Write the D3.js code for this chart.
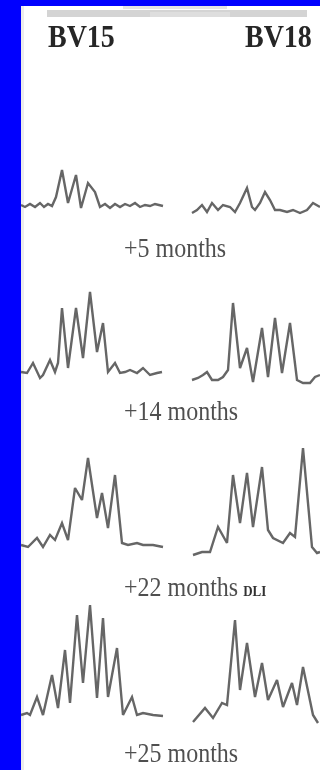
<!DOCTYPE html>
<html><head><meta charset="utf-8">
<script src="https://cdn.jsdelivr.net/npm/d3@7"></script>
<style>html,body{margin:0;padding:0;background:#fff;}svg{display:block;}</style>
</head><body>
<svg id="c" width="320" height="770"></svg>
<script>
// ---- data ----
const families = ["BV15", "BV18"];
const timepoints = ["+5 months", "+14 months", "+22 months", "+25 months"];
const dliNote = "DLI";
// each trace: [size position, fluorescence intensity]
const bv15_m5  = [[0,3],[4,1],[9,4],[14,1],[19,5],[23,1],[27,4],[31,2],[35,11],[41,38],[47,5],[55,33],[60,0],[67,25],[74,16],[79,1],[84,4],[89,0],[94,4],[99,1],[104,4],[109,2],[114,5],[119,1],[124,3],[129,2],[134,4],[142,2]];
const bv18_m5  = [[0,0],[5,3],[10,8],[15,1],[20,10],[26,3],[31,8],[38,6],[43,1],[48,10],[55,25],[60,6],[63,3],[68,10],[73,21],[78,13],[83,3],[88,3],[95,1],[101,3],[108,0],[115,3],[121,10],[128,6]];
const bv15_m14 = [[0,6],[6,5],[12,15],[19,0],[22,3],[29,18],[34,6],[37,15],[41,70],[47,10],[55,70],[62,20],[69,86],[76,26],[82,55],[87,6],[94,15],[99,5],[104,6],[109,8],[116,5],[122,10],[129,3],[136,5],[141,6]];
const bv18_m14 = [[0,3],[6,5],[11,8],[15,11],[20,3],[26,3],[31,6],[36,13],[41,80],[48,15],[55,35],[61,1],[70,55],[76,6],[83,65],[90,10],[98,60],[105,3],[111,0],[118,0],[123,6],[128,8]];
const bv15_m22 = [[0,2],[7,0],[16,9],[22,0],[29,12],[34,7],[41,24],[47,7],[54,59],[61,47],[67,89],[76,29],[81,54],[87,19],[94,72],[101,4],[107,2],[116,4],[122,2],[132,2],[142,0]];
const bv18_m22 = [[1,0],[10,3],[18,3],[26,28],[35,12],[41,80],[48,32],[55,82],[61,28],[70,88],[76,25],[81,17],[91,12],[98,22],[103,18],[111,107],[120,8],[125,2],[128,3]];
const bv15_m25 = [[0,1],[6,3],[9,1],[16,19],[22,1],[31,41],[37,8],[44,66],[49,13],[56,101],[62,33],[69,111],[76,18],[82,98],[87,19],[96,68],[102,1],[111,19],[116,1],[122,3],[132,1],[142,0]];
const bv18_m25 = [[1,1],[13,15],[21,5],[30,20],[35,18],[43,103],[48,33],[55,80],[63,26],[70,60],[76,23],[85,43],[91,16],[100,40],[105,18],[111,56],[121,8],[126,0]];
const traces = [[bv15_m5, bv18_m5],[bv15_m14, bv18_m14],[bv15_m22, bv18_m22],[bv15_m25, bv18_m25]];

// ---- layout ----
const W = 320, H = 770;
const colX = [{x0:21, x1:166, d:145}, {x0:192, x1:320, d:128}];
const rowBase = [[208,213],[378,383],[547,555],[716,723]];
const labelY = [257, 420, 596, 762];

const svg = d3.select("#c");
const defs = svg.append("defs");
defs.append("filter").attr("id","blur").attr("x","-5%").attr("y","-5%").attr("width","110%").attr("height","110%")
  .append("feGaussianBlur").attr("stdDeviation",0.65);

svg.append("rect").attr("width",W).attr("height",H).attr("fill","#fff");
const g = svg.append("g").attr("filter","url(#blur)");

// faint remnants at the top (cropped caption)
g.append("rect").attr("x",47).attr("y",10).attr("width",260).attr("height",7).attr("fill","#d4d4d4");
g.append("rect").attr("x",150).attr("y",12).attr("width",80).attr("height",5).attr("fill","#dedede");
g.append("rect").attr("x",123).attr("y",6).attr("width",104).attr("height",3).attr("fill","#e4e4e4");
g.append("rect").attr("x",21).attr("y",6).attr("width",3).attr("height",H).attr("fill","#ececec");

// headers
const serif = "'Liberation Serif','DejaVu Serif',serif";
families.forEach((f,i) => {
  const x = i === 0 ? 48 : 245;
  g.append("text").attr("transform",`translate(${x},47) scale(1,1.15)`)
    .attr("font-family",serif).attr("font-weight","bold").attr("font-size",28)
    .attr("fill","#262626").text(f);
});

// traces
traces.forEach((row, r) => {
  row.forEach((tr, c) => {
    const xs = d3.scaleLinear().domain([0, colX[c].d]).range([colX[c].x0, colX[c].x1]);
    const base = rowBase[r][c];
    const ys = d3.scaleLinear().domain([0,100]).range([base, base-100]);
    const line = d3.line().x(d => xs(d[0])).y(d => ys(d[1]));
    g.append("path").datum(tr).attr("d", line)
      .attr("fill","none").attr("stroke","#666").attr("stroke-width",2.4)
      .attr("stroke-linejoin","miter").attr("stroke-miterlimit",3);
  });
});

// time labels
timepoints.forEach((t,i) => {
  const txt = g.append("text").attr("transform",`translate(124,${labelY[i]}) scale(1,1.15)`)
    .attr("font-family",serif).attr("font-size",24).attr("fill","#505050");
  txt.append("tspan").text(t);
  if (i === 2) {
    txt.append("tspan").attr("font-weight","bold").attr("font-size",13).attr("fill","#333").attr("dx",5).text(dliNote);
  }
});

// blue frame strips
svg.append("rect").attr("x",0).attr("y",0).attr("width",21).attr("height",H).attr("fill","#0000ff");
svg.append("rect").attr("x",0).attr("y",0).attr("width",W).attr("height",6).attr("fill","#0000ff");
</script>
</body></html>
